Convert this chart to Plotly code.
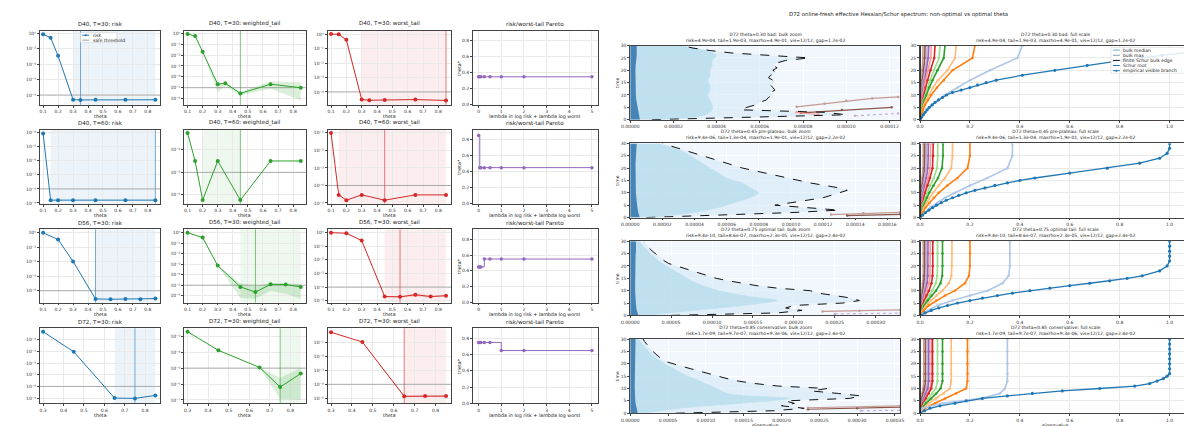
import math
import plotly.graph_objects as go

W, H = 1192, 426

# ======================= LEFT BLOCK DATA =======================
ROW_LABELS = ["D40, T=30", "D40, T=60", "D56, T=30", "D72, T=30"]
THETAS = [
    [0.10, 0.15, 0.20, 0.30, 0.35, 0.45, 0.65, 0.85],
    [0.10, 0.15, 0.20, 0.30, 0.45, 0.65, 0.85],
    [0.10, 0.20, 0.30, 0.45, 0.55, 0.65, 0.75, 0.85],
    [0.30, 0.45, 0.65, 0.75, 0.85],
]
RISK = [
    [0.75, 0.28, 1.2e-3, 2.5e-9, 2.3e-9, 2.4e-9, 2.4e-9, 2.4e-9],
    [9.0e-5, 1.6e-9, 1.6e-9, 1.6e-9, 1.6e-9, 1.6e-9, 1.6e-9],
    [0.95, 0.115, 1.1e-4, 7.5e-10, 6.8e-10, 7.5e-10, 6.8e-10, 8.3e-10],
    [4.9e-4, 9.4e-6, 1.0e-9, 9.4e-10, 1.7e-9],
]
WTAIL = [
    [0.87, 0.58, 0.02, 2.1e-5, 2.6e-5, 3.0e-6, 2.1e-5, 1.0e-5],
    [5.6e-4, 3.2e-5, 5.9e-7, 3.2e-5, 5.9e-7, 3.2e-5, 3.2e-5],
    [1.0, 0.34, 7.3e-4, 6.9e-6, 2.2e-6, 1.2e-5, 1.15e-5, 6.9e-6],
    [1.9e-3, 1.3e-4, 1.1e-5, 6.5e-7, 4.5e-6],
]
WTAIL_LO = [
    [0.87, 0.58, 0.02, 3.5e-6, 1.5e-5, 2.0e-6, 8.0e-6, 7.0e-7],
    [5.6e-4, 3.2e-5, 5.9e-7, 3.2e-5, 5.9e-7, 3.2e-5, 3.2e-5],
    [1.0, 0.34, 7.3e-4, 6.0e-7, 5.0e-7, 3.0e-6, 1.5e-6, 5.0e-7],
    [1.9e-3, 1.3e-4, 1.1e-5, 1.1e-7, 1.0e-7],
]
WTAIL_HI = [
    [0.87, 0.58, 0.02, 2.2e-5, 3.0e-5, 4.0e-6, 4.0e-5, 3.0e-5],
    [5.6e-4, 3.2e-5, 5.9e-7, 3.2e-5, 5.9e-7, 3.2e-5, 3.2e-5],
    [1.0, 0.34, 7.3e-4, 1.5e-5, 8.0e-6, 1.6e-5, 1.5e-5, 1.2e-5],
    [1.9e-3, 1.3e-4, 1.1e-5, 2.5e-6, 1.0e-5],
]
WORST = [
    [1.0, 0.97, 0.40, 3.0e-5, 2.7e-5, 2.8e-5, 3.0e-5, 2.6e-5],
    [0.10, 2.9e-5, 1.45e-5, 2.9e-5, 1.45e-5, 2.9e-5, 2.9e-5],
    [1.0, 0.90, 0.26, 2.0e-5, 1.9e-5, 2.7e-5, 2.0e-5, 2.3e-5],
    [0.49, 0.10, 1.4e-5, 1.45e-5, 1.45e-5],
]
WORST_LO = [
    [1.0, 0.97, 0.40, 3.0e-5, 2.7e-5, 2.8e-5, 3.0e-5, 2.6e-5],
    [0.10, 2.9e-5, 1.45e-5, 2.9e-5, 1.45e-5, 2.9e-5, 2.9e-5],
    [1.0, 0.90, 0.26, 1.8e-5, 1.7e-5, 2.0e-5, 1.8e-5, 2.0e-5],
    [0.49, 0.10, 1.2e-5, 1.25e-5, 1.25e-5],
]
WORST_HI = [
    [1.0, 0.97, 0.40, 3.0e-5, 2.7e-5, 2.8e-5, 3.0e-5, 2.6e-5],
    [0.10, 2.9e-5, 1.45e-5, 2.9e-5, 1.45e-5, 2.9e-5, 2.9e-5],
    [1.0, 0.90, 0.26, 2.2e-5, 2.1e-5, 3.5e-5, 2.3e-5, 2.6e-5],
    [0.49, 0.10, 1.7e-5, 1.75e-5, 1.75e-5],
]
RISK_SAFE = [(0.30, 0.85), (0.15, 0.85), (0.45, 0.85), (0.65, 0.85)]
RISK_BEST = [0.35, 0.85, 0.45, 0.75]
WTAIL_SAFE = [(0.45, 0.45), (0.20, 0.45), (0.45, 0.85), (0.75, 0.85)]
WTAIL_BEST = [0.45, 0.45, 0.55, 0.75]
WORST_SAFE = [(0.30, 0.85), (0.15, 0.85), (0.45, 0.85), (0.65, 0.85)]
WORST_BEST = [0.85, 0.45, 0.55, 0.65]
RISK_THR, WTAIL_THR, WORST_THR = 1e-8, 1e-5, 1e-4

LAMBDAS = [0, 0.05, 0.1, 0.25, 0.5, 1, 2, 5]
PARETO = [
    [0.35, 0.35, 0.35, 0.35, 0.35, 0.35, 0.35, 0.35],
    [0.85, 0.45, 0.45, 0.45, 0.45, 0.45, 0.45, 0.45],
    [0.45, 0.45, 0.45, 0.55, 0.55, 0.55, 0.55, 0.55],
    [0.75, 0.75, 0.75, 0.75, 0.75, 0.65, 0.65, 0.65],
]

# ======================= RIGHT BLOCK DATA =======================
SPEC_LABELS = ["theta=0.30 bad", "theta=0.45 pre-plateau",
               "theta=0.75 optimal tail", "theta=0.85 conservative"]
SPEC_RISK = ["4.9e-04", "9.4e-06", "9.4e-10", "1.7e-09"]
SPEC_TAIL = ["1.9e-03", "1.3e-04", "8.6e-07", "9.7e-07"]
SPEC_MAXRHO = ["4.9e-01", "1.9e-01", "2.3e-05", "9.3e-06"]
SPEC_VIS = ["12/12", "12/12", "12/12", "12/12"]
SPEC_GAP = ["1.2e-02", "2.2e-02", "2.4e-02", "2.4e-02"]

TIME_EDGE = list(range(31))
BULK_EDGE = [
    [1.0e-5, 6.0e-5, 1.0e-4, 9.0e-5, 5.1e-5, 5.4e-5, 5.8e-5, 6.0e-5, 6.3e-5, 6.4e-5,
     6.6e-5, 6.5e-5, 6.7e-5, 6.6e-5, 6.5e-5, 6.7e-5, 6.6e-5, 6.4e-5, 6.5e-5, 6.8e-5,
     6.6e-5, 6.8e-5, 6.6e-5, 6.8e-5, 7.2e-5, 8.3e-5, 6.5e-5, 4.7e-5, 3.7e-5, 2.9e-5, 2.4e-5],
    [1.0e-5, 6.0e-5, 1.0e-4, 1.3e-4, 1.1e-4, 9.0e-5, 1.0e-4, 1.1e-4, 1.2e-4, 1.25e-4,
     1.3e-4, 1.35e-4, 1.3e-4, 1.2e-4, 1.12e-4, 1.05e-4, 9.8e-5, 9.0e-5, 8.2e-5, 7.5e-5,
     7.0e-5, 6.5e-5, 6.0e-5, 5.5e-5, 5.0e-5, 4.5e-5, 4.0e-5, 3.5e-5, 3.0e-5, 2.5e-5, 2.0e-5],
    [5.0e-5, 1.8e-4, 2.1e-4, 1.9e-4, 2.0e-4, 2.6e-4, 2.8e-4, 2.7e-4, 2.5e-4, 2.3e-4,
     2.2e-4, 1.8e-4, 1.55e-4, 1.35e-4, 1.2e-4, 1.05e-4, 9.5e-5, 8.5e-5, 7.5e-5, 6.5e-5,
     5.5e-5, 4.7e-5, 4.2e-5, 3.8e-5, 3.4e-5, 3.0e-5, 2.7e-5, 2.4e-5, 2.1e-5, 1.9e-5, 1.7e-5],
    [6.0e-5, 1.9e-4, 2.3e-4, 2.0e-4, 2.17e-4, 2.05e-4, 2.9e-4, 3.05e-4, 2.75e-4, 2.4e-4,
     2.6e-4, 1.95e-4, 1.65e-4, 1.43e-4, 1.28e-4, 1.15e-4, 1.02e-4, 9.2e-5, 8.0e-5, 6.8e-5,
     5.6e-5, 4.6e-5, 4.1e-5, 3.7e-5, 3.3e-5, 3.0e-5, 2.7e-5, 2.4e-5, 2.1e-5, 1.9e-5, 1.7e-5],
]
TIME_GRID = list(range(0, 31, 2))
BULK_INNER = [
    [1.5e-5, 3.5e-5, 3.8e-5, 3.8e-5, 3.7e-5, 3.6e-5, 3.7e-5, 3.7e-5,
     3.6e-5, 3.7e-5, 3.7e-5, 3.8e-5, 3.8e-5, 4.0e-5, 3.5e-5, 2.3e-5],
    [1.5e-5, 4.0e-5, 5.5e-5, 6.5e-5, 7.5e-5, 8.0e-5, 7.5e-5, 7.0e-5,
     6.0e-5, 5.5e-5, 5.0e-5, 4.5e-5, 4.0e-5, 3.5e-5, 2.8e-5, 1.8e-5],
    [2.0e-5, 8.0e-5, 1.4e-4, 1.8e-4, 1.4e-4, 1.1e-4, 9.0e-5, 7.5e-5,
     6.5e-5, 5.5e-5, 4.5e-5, 3.5e-5, 2.8e-5, 2.2e-5, 1.6e-5, 1.1e-5],
    [2.0e-5, 7.0e-5, 1.5e-4, 2.1e-4, 1.3e-4, 1.15e-4, 1.0e-4, 8.5e-5,
     7.0e-5, 5.8e-5, 4.6e-5, 3.6e-5, 2.8e-5, 2.2e-5, 1.6e-5, 1.1e-5],
]
BULK_DENSE = [
    [4.5e-6, 4.0e-6, 3.5e-6, 3.0e-6, 2.8e-6, 2.6e-6, 2.5e-6, 2.5e-6,
     2.4e-6, 2.4e-6, 2.4e-6, 2.5e-6, 2.8e-6, 3.0e-6, 3.0e-6, 3.0e-6],
    [6.0e-6, 5.0e-6, 4.5e-6, 4.0e-6, 3.8e-6, 3.5e-6, 3.4e-6, 3.3e-6,
     3.2e-6, 3.2e-6, 3.2e-6, 3.3e-6, 3.5e-6, 3.8e-6, 4.0e-6, 4.0e-6],
    [1.0e-5, 8.0e-6, 7.0e-6, 6.5e-6, 6.0e-6, 6.0e-6, 6.0e-6, 6.0e-6,
     6.0e-6, 6.0e-6, 6.0e-6, 6.0e-6, 6.5e-6, 7.0e-6, 7.0e-6, 7.0e-6],
    [1.0e-5, 8.0e-6, 7.0e-6, 6.5e-6, 6.0e-6, 6.0e-6, 6.0e-6, 6.0e-6,
     6.0e-6, 6.0e-6, 6.0e-6, 6.0e-6, 6.5e-6, 7.0e-6, 7.0e-6, 7.0e-6],
]
# small visible branches entering the bulk-zoom window: (branch index, eigenvalues, times)
BULK_BRANCH_SEGMENTS = [
    [(11, [7.7e-5, 9.0e-5, 1.0e-4, 1.12e-4, 1.24e-4], [5.2, 6.5, 7.7, 8.6, 9.2]),
     (10, [7.9e-5, 9.8e-5, 1.21e-4], [2.8, 3.9, 5.0]),
     (7, [7.7e-5, 8.7e-5], [3.0, 2.1]),
     (9, [1.04e-4, 1.24e-4], [1.6, 2.5])],
    [(11, [1.25e-4, 1.45e-4, 1.68e-4], [1.2, 1.7, 2.1]),
     (10, [1.35e-4, 1.68e-4], [0.8, 1.3])],
    [(11, [2.35e-4, 2.8e-4, 3.3e-4], [1.6, 1.9, 2.2]),
     (9, [2.5e-4, 3.3e-4], [0.6, 0.9])],
    [(10, [2.35e-4, 3.0e-4, 3.57e-4], [1.6, 2.0, 2.5]),
     (11, [2.35e-4, 3.57e-4], [2.2, 3.0]),
     (9, [3.05e-4, 3.57e-4], [1.0, 1.2])],
]

MAIN_T = [0, 1, 2, 3, 4, 5, 6, 7, 8, 9, 10, 11, 12, 13, 14, 15, 16, 18, 20, 22, 24, 26, 28, 30]
MAIN_BRANCH = [
    [0, 0.006, 0.013, 0.02, 0.028, 0.037, 0.048, 0.06, 0.074, 0.09, 0.106, 0.13, 0.165,
     0.2, 0.23, 0.265, 0.305, 0.41, 0.54, 0.67, 0.81, 0.97, 1.15, 1.3],
    [0, 0.01, 0.022, 0.035, 0.05, 0.066, 0.085, 0.105, 0.13, 0.155, 0.185, 0.22, 0.26,
     0.3, 0.35, 0.4, 0.46, 0.6, 0.75, 0.88, 0.96, 0.99, 1.0, 1.0],
    [0, 0.02, 0.045, 0.075, 0.11, 0.15, 0.2, 0.25, 0.31, 0.37, 0.44, 0.52, 0.6,
     0.68, 0.76, 0.83, 0.89, 0.96, 0.99, 1.0, 1.0, 1.0, 1.0, 1.0],
    [0, 0.018, 0.04, 0.08, 0.14, 0.185, 0.25, 0.35, 0.45, 0.57, 0.72, 0.86, 0.92,
     0.95, 0.975, 0.99, 1.0, 1.0, 1.0, 1.0, 1.0, 1.0, 1.0, 1.0],
]
BRANCH_T = [0, 2, 4, 6, 8, 10, 13, 16, 20, 25, 30]
OTHER_BRANCHES = [
    [  # theta 0.30
        [0, 0.014, 0.03, 0.05, 0.072, 0.1, 0.15, 0.2, 0.28, 0.39, 0.41],
        [0, 0.005, 0.012, 0.02, 0.032, 0.045, 0.068, 0.095, 0.13, 0.21, 0.22],
        [0, 0.004, 0.009, 0.015, 0.024, 0.035, 0.052, 0.072, 0.11, 0.14, 0.145],
        [0, 0.003, 0.007, 0.012, 0.018, 0.025, 0.037, 0.05, 0.07, 0.095, 0.1],
        [0, 0.002, 0.005, 0.009, 0.014, 0.02, 0.03, 0.04, 0.056, 0.076, 0.08],
        [0, 0.002, 0.004, 0.007, 0.011, 0.015, 0.022, 0.03, 0.042, 0.057, 0.06],
        [0, 0.0015, 0.003, 0.005, 0.008, 0.011, 0.016, 0.022, 0.032, 0.043, 0.045],
        [0, 0.001, 0.002, 0.004, 0.006, 0.009, 0.013, 0.017, 0.025, 0.033, 0.035],
        [0, 0.0008, 0.0017, 0.003, 0.005, 0.007, 0.01, 0.014, 0.02, 0.027, 0.028],
        [0, 0.0006, 0.0012, 0.0022, 0.0035, 0.005, 0.0075, 0.01, 0.014, 0.019, 0.02],
        [0, 0.0001, 0.0003, 0.0008, 0.0015, 0.0025, 0.004, 0.006, 0.009, 0.0115, 0.012],
    ],
    [  # theta 0.45
        [0, 0.02, 0.04, 0.07, 0.1, 0.14, 0.2, 0.27, 0.35, 0.37, 0.37],
        [0, 0.01, 0.022, 0.038, 0.055, 0.075, 0.11, 0.15, 0.19, 0.2, 0.2],
        [0, 0.007, 0.015, 0.026, 0.038, 0.052, 0.075, 0.1, 0.125, 0.13, 0.13],
        [0, 0.005, 0.011, 0.019, 0.027, 0.037, 0.054, 0.072, 0.088, 0.092, 0.092],
        [0, 0.004, 0.008, 0.014, 0.021, 0.028, 0.041, 0.055, 0.068, 0.071, 0.071],
        [0, 0.003, 0.006, 0.01, 0.015, 0.02, 0.03, 0.04, 0.05, 0.053, 0.053],
        [0, 0.002, 0.005, 0.008, 0.012, 0.016, 0.024, 0.032, 0.04, 0.042, 0.042],
        [0, 0.0015, 0.0035, 0.006, 0.009, 0.012, 0.018, 0.025, 0.031, 0.033, 0.033],
        [0, 0.001, 0.0025, 0.0045, 0.007, 0.0095, 0.014, 0.019, 0.024, 0.026, 0.026],
        [0, 0.0007, 0.0017, 0.003, 0.005, 0.007, 0.01, 0.014, 0.018, 0.019, 0.019],
        [0, 0.0001, 0.0004, 0.001, 0.002, 0.0035, 0.006, 0.009, 0.012, 0.013, 0.013],
    ],
    [  # theta 0.75
        [0, 0.03, 0.07, 0.13, 0.2, 0.27, 0.33, 0.355, 0.36, 0.36, 0.36],
        [0, 0.015, 0.035, 0.065, 0.1, 0.14, 0.18, 0.196, 0.2, 0.2, 0.2],
        [0, 0.01, 0.024, 0.044, 0.066, 0.09, 0.115, 0.126, 0.128, 0.128, 0.128],
        [0, 0.007, 0.017, 0.031, 0.047, 0.064, 0.082, 0.089, 0.09, 0.09, 0.09],
        [0, 0.005, 0.013, 0.024, 0.036, 0.049, 0.063, 0.069, 0.07, 0.07, 0.07],
        [0, 0.004, 0.009, 0.017, 0.026, 0.036, 0.046, 0.05, 0.051, 0.051, 0.051],
        [0, 0.003, 0.007, 0.013, 0.02, 0.028, 0.036, 0.04, 0.041, 0.041, 0.041],
        [0, 0.002, 0.005, 0.01, 0.016, 0.022, 0.028, 0.031, 0.032, 0.032, 0.032],
        [0, 0.0015, 0.004, 0.008, 0.012, 0.017, 0.022, 0.025, 0.026, 0.026, 0.026],
        [0, 0.001, 0.003, 0.006, 0.009, 0.012, 0.016, 0.018, 0.019, 0.019, 0.019],
        [0, 0.0002, 0.001, 0.003, 0.005, 0.008, 0.011, 0.013, 0.013, 0.013, 0.013],
    ],
    [  # theta 0.85
        [0, 0.01, 0.09, 0.245, 0.32, 0.34, 0.35, 0.35, 0.35, 0.35, 0.35],
        [0, 0.02, 0.06, 0.1, 0.145, 0.185, 0.19, 0.19, 0.19, 0.19, 0.19],
        [0, 0.012, 0.035, 0.065, 0.095, 0.12, 0.125, 0.125, 0.125, 0.125, 0.125],
        [0, 0.008, 0.024, 0.045, 0.065, 0.082, 0.09, 0.09, 0.09, 0.09, 0.09],
        [0, 0.006, 0.018, 0.034, 0.05, 0.063, 0.07, 0.07, 0.07, 0.07, 0.07],
        [0, 0.004, 0.012, 0.024, 0.035, 0.045, 0.05, 0.05, 0.05, 0.05, 0.05],
        [0, 0.003, 0.01, 0.02, 0.03, 0.04, 0.045, 0.045, 0.045, 0.045, 0.045],
        [0, 0.002, 0.007, 0.015, 0.023, 0.031, 0.035, 0.035, 0.035, 0.035, 0.035],
        [0, 0.0015, 0.005, 0.012, 0.019, 0.026, 0.03, 0.03, 0.03, 0.03, 0.03],
        [0, 0.001, 0.003, 0.008, 0.013, 0.018, 0.022, 0.022, 0.022, 0.022, 0.022],
        [0, 0.0005, 0.002, 0.005, 0.009, 0.012, 0.015, 0.015, 0.015, 0.015, 0.015],
    ],
]
BRANCH_COLORS = ["#1f77b4", "#aec7e8", "#ff7f0e", "#ffbb78", "#2ca02c", "#98df8a",
                 "#d62728", "#ff9896", "#9467bd", "#c5b0d5", "#8c564b", "#c49c94"]

# ======================= LAYOUT / STYLE =======================
FONT = "DejaVu Sans"
fig = go.Figure()
annotations, shapes = [], []
axn = [0]

def rgba(hexc, a):
    h = hexc.lstrip("#")
    return "rgba(%d,%d,%d,%.3f)" % (int(h[0:2], 16), int(h[2:4], 16), int(h[4:6], 16), a)

def base_axis(size):
    return dict(showline=True, linecolor="#444", linewidth=0.8, mirror=True,
                ticks="outside", ticklen=2, tickwidth=0.6, tickcolor="#444",
                showgrid=True, gridcolor="#e9e9e9", gridwidth=0.6, zeroline=False,
                tickfont=dict(size=size, color="#333", family=FONT))

def add_axes(x0, x1, top, bottom, xa, ya, tsize=4.5):
    axn[0] += 1
    i = axn[0]
    s = "" if i == 1 else str(i)
    xd = base_axis(tsize); xd.update(domain=[x0 / W, x1 / W], anchor="y" + s); xd.update(xa)
    yd = base_axis(tsize); yd.update(domain=[1 - bottom / H, 1 - top / H], anchor="x" + s); yd.update(ya)
    fig.update_layout({"xaxis" + s: xd, "yaxis" + s: yd})
    return "x" + s, "y" + s

def ann(text, x, y, size, xanchor="center", yanchor="middle", angle=0):
    annotations.append(dict(text=text, x=x / W, y=1 - y / H, xref="paper", yref="paper",
                            showarrow=False, font=dict(size=size, color="#222", family=FONT),
                            xanchor=xanchor, yanchor=yanchor, textangle=angle))

def pshape(**kw):
    d = dict(xref="paper", yref="paper")
    d.update(kw)
    shapes.append(d)

def legend_box(x0, y0, x1, y1, entries, size=4.5):
    pshape(type="rect", x0=x0 / W, x1=x1 / W, y0=1 - y0 / H, y1=1 - y1 / H,
           fillcolor="rgba(255,255,255,0.85)", line=dict(color="#cccccc", width=0.5))
    n = len(entries)
    step = (y1 - y0) / n
    for k, (label, ln, mk) in enumerate(entries):
        yy = y0 + step * (k + 0.5)
        pshape(type="line", x0=(x0 + 2) / W, x1=(x0 + 9) / W, y0=1 - yy / H, y1=1 - yy / H, line=ln)
        if mk:
            pshape(type="circle", x0=(x0 + 4.5) / W, x1=(x0 + 6.5) / W, y0=1 - (yy - 1) / H,
                   y1=1 - (yy + 1) / H, fillcolor=ln["color"], line=dict(width=0))
        ann(label, x0 + 10.5, yy, size, xanchor="left")

SUP = str.maketrans("0123456789-", "\u2070\u00b9\u00b2\u00b3\u2074\u2075\u2076\u2077\u2078\u2079\u207b")

def pow_label(e):
    return "10" + str(e).translate(SUP)

LCOLS = [(23, 145), (169, 292), (314, 439), (461, 587)]
LROWS = [(21, 96), (121, 196), (222, 296), (322, 398)]
YR_RISK = [(-9.28, 0.34), (-9.05, -3.77), (-9.62, 0.45), (-9.45, -3.01)]
YR_WTAIL = [(-6.58, 0.24), (-6.39, -3.10), (-6.65, 0.31), (-7.21, -2.50)]
YR_WORST = [(-4.89, 0.23), (-5.04, -0.81), (-5.14, 0.24), (-5.35, -0.02)]

def decade_ticks(lo, hi):
    es = [e for e in range(math.ceil(lo), math.floor(hi) + 1)]
    if len(es) > 7:
        es = [e for e in es if e % 2 == 0]
    return es

for r in range(4):
    th = THETAS[r]
    span = th[-1] - th[0]
    xr = [th[0] - 0.03 * span, th[-1] + 0.045 * span]
    xt = [round(0.1 * k, 1) for k in range(1, 9) if th[0] - 1e-9 <= 0.1 * k <= 0.85]
    top, bottom = LROWS[r]
    metrics = [
        ("risk", RISK[r], None, None, RISK_THR, RISK_SAFE[r], RISK_BEST[r], "#1f77b4", YR_RISK[r]),
        ("weighted_tail", WTAIL[r], WTAIL_LO[r], WTAIL_HI[r], WTAIL_THR, WTAIL_SAFE[r], WTAIL_BEST[r], "#2ca02c", YR_WTAIL[r]),
        ("worst_tail", WORST[r], WORST_LO[r], WORST_HI[r], WORST_THR, WORST_SAFE[r], WORST_BEST[r], "#d62728", YR_WORST[r]),
    ]
    for c, (name, vals, lo, hi, thr, safe, best, col, yr) in enumerate(metrics):
        x0, x1 = LCOLS[c]
        es = decade_ticks(*yr)
        xs, ys = add_axes(x0, x1, top, bottom,
                          dict(range=xr, tickvals=xt, ticktext=["%.1f" % v for v in xt]),
                          dict(type="log", range=list(yr), tickvals=[10.0 ** e for e in es],
                               ticktext=[pow_label(e) for e in es]))
        shapes.append(dict(type="rect", xref=xs, yref=ys + " domain", x0=safe[0], x1=safe[1],
                           y0=0, y1=1, fillcolor=rgba(col, 0.08), line=dict(width=0), layer="below"))
        shapes.append(dict(type="line", xref=xs, yref=ys + " domain", x0=best, x1=best, y0=0, y1=1,
                           line=dict(color=rgba(col, 0.6), width=1)))
        fig.add_trace(go.Scatter(x=xr, y=[thr, thr], xaxis=xs, yaxis=ys, mode="lines",
                                 line=dict(color="rgba(120,120,120,0.55)", width=1),
                                 showlegend=False, hoverinfo="skip"))
        if lo is not None:
            fig.add_trace(go.Scatter(x=th, y=lo, xaxis=xs, yaxis=ys, mode="lines",
                                     line=dict(width=0, color=col), showlegend=False, hoverinfo="skip"))
            fig.add_trace(go.Scatter(x=th, y=hi, xaxis=xs, yaxis=ys, mode="lines", fill="tonexty",
                                     fillcolor=rgba(col, 0.17), line=dict(width=0, color=col),
                                     showlegend=False, hoverinfo="skip"))
        fig.add_trace(go.Scatter(x=th, y=vals, xaxis=xs, yaxis=ys, mode="lines+markers",
                                 line=dict(color=col, width=1), marker=dict(size=4, color=col),
                                 name=name, showlegend=False))
        ann("%s: %s" % (ROW_LABELS[r], name), (x0 + x1) / 2, top - 1.5, 5.6, yanchor="bottom")
        ann("theta", (x0 + x1) / 2, bottom + 7.5, 4.8, yanchor="top")
    # pareto
    x0, x1 = LCOLS[3]
    xa, ya = add_axes(x0, x1, top, bottom,
                      dict(range=[-0.25, 5.25], tickvals=[0, 1, 2, 3, 4, 5]),
                      dict(range=[0, 0.925], tickvals=[0, 0.2, 0.4, 0.6, 0.8],
                           ticktext=["0.0", "0.2", "0.4", "0.6", "0.8"]))
    fig.add_trace(go.Scatter(x=LAMBDAS, y=PARETO[r], xaxis=xa, yaxis=ya, mode="lines+markers",
                             line=dict(color="#9467bd", width=1, shape="hv"),
                             marker=dict(size=3.5, color="#9467bd"), showlegend=False))
    ann("risk/worst-tail Pareto", (x0 + x1) / 2, top - 1.5, 5.6, yanchor="bottom")
    ann("lambda in log risk + lambda log worst", (x0 + x1) / 2, bottom + 7.5, 4.8, yanchor="top")
    ann("theta*", x0 - 13, (top + bottom) / 2, 4.8, angle=-90)

legend_box(64, 23, 101, 33,
           [("risk", dict(color="#1f77b4", width=1), True),
            ("safe threshold", dict(color="rgba(120,120,120,0.7)", width=1), False)])

# ---------------- right block ----------------
RCOLS = [(620, 893), (913, 1186)]
RROWS = [(36, 111), (135, 210), (234, 309), (333, 408)]
BULK_XMAX = [1.25e-4, 1.68e-4, 3.3e-4, 3.57e-4]
BULK_DTICK = [2e-5, 2e-5, 5e-5, 5e-5]

ann("D72 online-fresh effective Hessian/Schur spectrum: non-optimal vs optimal theta",
    891, 4.5, 5.4)

for r in range(4):
    top, bottom = RROWS[r]
    stats = "risk=%s, tail=%s, maxrho=%s, vis=%s, gap=%s" % (
        SPEC_RISK[r], SPEC_TAIL[r], SPEC_MAXRHO[r], SPEC_VIS[r], SPEC_GAP[r])
    for c in range(2):
        x0, x1 = RCOLS[c]
        if c == 0:
            xa, ya = add_axes(x0, x1, top, bottom,
                              dict(range=[0, BULK_XMAX[r]], dtick=BULK_DTICK[r], tick0=0,
                                   tickformat=".5f", gridcolor="rgba(255,255,255,0.8)"),
                              dict(range=[0, 30], dtick=5, gridcolor="rgba(255,255,255,0.8)"))
            shapes.append(dict(type="rect", xref=xa + " domain", yref=ya + " domain", x0=0, x1=1,
                               y0=0, y1=1, fillcolor="#f1f7fc", line=dict(width=0), layer="below"))
            fig.add_trace(go.Scatter(x=BULK_EDGE[r], y=TIME_EDGE, xaxis=xa, yaxis=ya, mode="lines",
                                     fill="tozerox", fillcolor="rgba(205,230,243,0.5)",
                                     line=dict(width=0), showlegend=False, hoverinfo="skip"))
            fig.add_trace(go.Scatter(x=BULK_INNER[r], y=TIME_GRID, xaxis=xa, yaxis=ya, mode="lines",
                                     fill="tozerox", fillcolor="rgba(160,210,230,0.5)",
                                     line=dict(width=0, shape="spline"), showlegend=False, hoverinfo="skip"))
            fig.add_trace(go.Scatter(x=BULK_DENSE[r], y=TIME_GRID, xaxis=xa, yaxis=ya, mode="lines",
                                     fill="tozerox", fillcolor="rgba(31,100,160,0.75)",
                                     line=dict(width=0), showlegend=False, hoverinfo="skip"))
            for (b, xs_, ts_) in BULK_BRANCH_SEGMENTS[r]:
                col = BRANCH_COLORS[b]
                fig.add_trace(go.Scatter(x=xs_, y=ts_, xaxis=xa, yaxis=ya, mode="lines+markers",
                                         line=dict(color=col, width=1.2,
                                                   dash="dot" if b == 9 else "solid"),
                                         marker=dict(size=2.5, color=col), showlegend=False))
            fig.add_trace(go.Scatter(x=BULK_EDGE[r], y=TIME_EDGE, xaxis=xa, yaxis=ya, mode="lines",
                                     line=dict(color="#111", width=1, dash="dash"), showlegend=False))
            title = "D72 %s: bulk zoom<br>%s" % (SPEC_LABELS[r], stats)
            ann("time", x0 - 13, (top + bottom) / 2, 4.6, angle=-90)
        else:
            xa, ya = add_axes(x0, x1, top, bottom,
                              dict(range=[0, 1.082], dtick=0.2, tick0=0, tickformat=".1f"),
                              dict(range=[0, 30], dtick=5))
            for b in range(11, 0, -1):
                col = BRANCH_COLORS[b]
                fig.add_trace(go.Scatter(x=OTHER_BRANCHES[r][b - 1], y=BRANCH_T, xaxis=xa, yaxis=ya,
                                         mode="lines+markers", line=dict(color=col, width=1.6),
                                         marker=dict(size=2.5, color=col), showlegend=False))
            fig.add_trace(go.Scatter(x=MAIN_BRANCH[r], y=MAIN_T, xaxis=xa, yaxis=ya,
                                     mode="lines+markers", line=dict(color=BRANCH_COLORS[0], width=1.3),
                                     marker=dict(size=3.2, color=BRANCH_COLORS[0]), showlegend=False))
            fig.add_trace(go.Scatter(x=BULK_EDGE[r], y=TIME_EDGE, xaxis=xa, yaxis=ya, mode="lines",
                                     line=dict(color="#111", width=1.6), showlegend=False))
            title = "D72 %s: full scale<br>%s" % (SPEC_LABELS[r], stats)
        ann(title, (x0 + x1) / 2, top - 1, 4.5, yanchor="bottom")
        if r == 3:
            ann("eigenvalue", (x0 + x1) / 2, bottom + 8, 4.8, yanchor="top")

legend_box(1106, 38, 1184, 64,
           [("bulk median", dict(color="#9ecae1", width=1.5), False),
            ("bulk max", dict(color="#7f9fb5", width=1), False),
            ("finite Schur bulk edge", dict(color="#111", width=1, dash="dash"), False),
            ("Schur root", dict(color="#1f77b4", width=1, dash="dash"), False),
            ("empirical visible branch", dict(color="#1f77b4", width=1), True)])

fig.update_layout(
    width=W, height=H, margin=dict(l=0, r=0, t=0, b=0),
    paper_bgcolor="white", plot_bgcolor="white", showlegend=False,
    font=dict(family=FONT, size=5, color="#222"),
    annotations=annotations, shapes=shapes,
)

fig.write_html("out.html")
